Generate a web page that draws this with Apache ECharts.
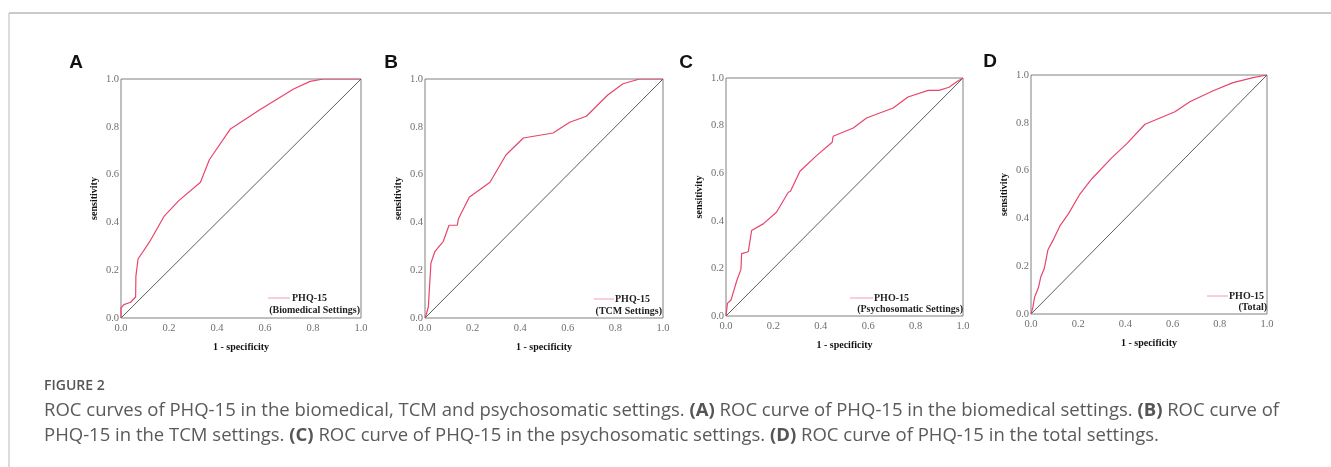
<!DOCTYPE html>
<html>
<head>
<meta charset="utf-8">
<script src="https://cdn.jsdelivr.net/npm/echarts@6/dist/echarts.min.js"></script>
<style>
html,body{margin:0;padding:0;background:#fff;}
#chart{width:1331px;height:467px;}
</style>
</head>
<body>
<div id="chart"></div>
<script>
// ---- Data ----
const tickLabels = ['0.0', '0.2', '0.4', '0.6', '0.8', '1.0'];
const panelLetters = ['A', 'B', 'C', 'D'];
const legendTop = ['PHQ-15', 'PHQ-15', 'PHO-15', 'PHO-15'];
const legendBottom = ['(Biomedical Settings)', '(TCM Settings)', '(Psychosomatic Settings)', '(Total)'];
const diagX = [0, 1];
const diagY = [0, 1];

const fprA = [0, 0, 0.012, 0.04, 0.061, 0.062, 0.071, 0.123, 0.179, 0.241, 0.331, 0.368, 0.456, 0.58, 0.719, 0.788, 0.843, 1];
const tprA = [0, 0.042, 0.056, 0.066, 0.088, 0.174, 0.247, 0.325, 0.425, 0.491, 0.568, 0.662, 0.791, 0.872, 0.958, 0.99, 1, 1];

const fprB = [0, 0.007, 0.014, 0.021, 0.025, 0.042, 0.077, 0.101, 0.136, 0.140, 0.186, 0.273, 0.340, 0.413, 0.538, 0.608, 0.678, 0.769, 0.832, 0.902, 1];
const tprB = [0, 0.021, 0.046, 0.046, 0.23, 0.279, 0.321, 0.388, 0.388, 0.414, 0.505, 0.568, 0.682, 0.753, 0.774, 0.819, 0.844, 0.934, 0.98, 1, 1];

const fprC = [0, 0.006, 0.006, 0.021, 0.045, 0.063, 0.066, 0.094, 0.108, 0.157, 0.213, 0.263, 0.272, 0.312, 0.382, 0.448, 0.452, 0.537, 0.593, 0.705, 0.768, 0.853, 0.899, 0.941, 0.972, 1];
const tprC = [0, 0, 0.053, 0.067, 0.147, 0.196, 0.262, 0.270, 0.359, 0.387, 0.436, 0.520, 0.524, 0.608, 0.674, 0.730, 0.755, 0.790, 0.832, 0.874, 0.920, 0.948, 0.948, 0.961, 0.983, 1];

const fprD = [0, 0.008, 0.015, 0.032, 0.042, 0.056, 0.072, 0.093, 0.124, 0.159, 0.208, 0.258, 0.342, 0.406, 0.483, 0.610, 0.673, 0.772, 0.856, 0.941, 1];
const tprD = [0, 0.028, 0.07, 0.112, 0.157, 0.189, 0.269, 0.308, 0.371, 0.420, 0.503, 0.566, 0.653, 0.713, 0.794, 0.846, 0.888, 0.934, 0.968, 0.989, 1];

const captionTitle = 'FIGURE 2';
const captionLine1 = 'ROC curves of PHQ-15 in the biomedical, TCM and psychosomatic settings. {b|(A)} ROC curve of PHQ-15 in the biomedical settings. {b|(B)} ROC curve of';
const captionLine2 = 'PHQ-15 in the TCM settings. {b|(C)} ROC curve of PHQ-15 in the psychosomatic settings. {b|(D)} ROC curve of PHQ-15 in the total settings.';

// ---- Layout ----
const panels = [
  {left: 121, top: 79, width: 240, height: 239, fpr: fprA, tpr: tprA, letterX: 76, letterY: 63},
  {left: 425, top: 79, width: 238, height: 239, fpr: fprB, tpr: tprB, letterX: 391, letterY: 63},
  {left: 726, top: 78, width: 237, height: 238, fpr: fprC, tpr: tprC, letterX: 686, letterY: 63},
  {left: 1031, top: 75, width: 236, height: 239, fpr: fprD, tpr: tprD, letterX: 990, letterY: 62}
];
const curveColor = '#e8456b';
const serif = '"Liberation Serif", "DejaVu Serif", serif';

const grid = [], xAxis = [], yAxis = [], series = [], graphic = [];
panels.forEach((p, i) => {
  grid.push({left: p.left, top: p.top, width: p.width, height: p.height,
    show: true, borderColor: '#808080', borderWidth: 1, backgroundColor: 'transparent'});
  const axisCommon = {
    type: 'value', min: 0, max: 1, interval: 0.2, gridIndex: i,
    splitLine: {show: false}, axisTick: {show: false},
    axisLine: {show: false},
    axisLabel: {fontFamily: serif, fontSize: 10.5, color: '#6f6f6f',
      formatter: v => tickLabels[Math.round(v * 5)]},
    nameLocation: 'middle',
    nameTextStyle: {fontFamily: serif, fontSize: 10, fontWeight: 'bold', color: '#111'}
  };
  xAxis.push(Object.assign({}, axisCommon, {name: '1 - specificity', nameGap: 24,
    axisLabel: Object.assign({}, axisCommon.axisLabel, {margin: 5})}));
  yAxis.push(Object.assign({}, axisCommon, {name: 'sensitivity', nameGap: 22,
    axisLabel: Object.assign({}, axisCommon.axisLabel, {margin: 2})}));
  series.push({type: 'line', xAxisIndex: i, yAxisIndex: i, symbol: 'none', silent: true,
    lineStyle: {color: '#333', width: 0.8}, data: diagX.map((x, k) => [x, diagY[k]]), z: 2});
  series.push({type: 'line', xAxisIndex: i, yAxisIndex: i, symbol: 'none', silent: true,
    lineStyle: {color: curveColor, width: 1.2}, data: p.fpr.map((x, k) => [x, p.tpr[k]]), z: 3});
  graphic.push({type: 'text', x: p.letterX, y: p.letterY,
    style: {text: panelLetters[i], font: 'bold 19px "Liberation Sans", Arial, sans-serif', fill: '#111',
      align: 'center', verticalAlign: 'middle'}});
});

// legends (line sample + two text lines), placed bottom-right inside each plot
const legendPos = [
  {lx1: 268, lx2: 290, ly: 298, tx: 292, ty: 298, bx: 360, by: 310},
  {lx1: 594, lx2: 614, ly: 299, tx: 615, ty: 299, bx: 662, by: 311},
  {lx1: 850, lx2: 873, ly: 298, tx: 874, ty: 298, bx: 963, by: 309},
  {lx1: 1207, lx2: 1228, ly: 296, tx: 1229, ty: 296, bx: 1267, by: 307}
];
legendPos.forEach((l, i) => {
  graphic.push({type: 'line', shape: {x1: l.lx1, y1: l.ly, x2: l.lx2, y2: l.ly},
    style: {stroke: '#f2a0b4', lineWidth: 1}});
  graphic.push({type: 'text', x: l.tx, y: l.ty,
    style: {text: legendTop[i], font: 'bold 10px ' + serif, fill: '#222', align: 'left', verticalAlign: 'middle'}});
  graphic.push({type: 'text', x: l.bx, y: l.by,
    style: {text: legendBottom[i], font: 'bold 10px ' + serif, fill: '#222', align: 'right', verticalAlign: 'middle'}});
});

// frame
graphic.push({type: 'line', shape: {x1: 9, y1: 13, x2: 1331, y2: 13}, style: {stroke: '#b8b8b8', lineWidth: 1.5}});
graphic.push({type: 'line', shape: {x1: 9, y1: 13, x2: 9, y2: 467}, style: {stroke: '#b8b8b8', lineWidth: 1}});

// caption
const capFont = '"Open Sans", "Noto Sans", sans-serif';
graphic.push({type: 'text', x: 44, y: 386,
  style: {text: captionTitle, font: '600 14px ' + capFont, fill: '#555', verticalAlign: 'middle'}});
const rich = {b: {fontFamily: capFont, fontWeight: 'bold', fontSize: 18.5, fill: '#555', color: '#555'}};
graphic.push({type: 'text', x: 44, y: 411,
  style: {text: captionLine1, font: '18.5px ' + capFont, fill: '#5a5a5a', verticalAlign: 'middle', rich: rich}});
graphic.push({type: 'text', x: 44, y: 436,
  style: {text: captionLine2, font: '18.5px ' + capFont, fill: '#5a5a5a', verticalAlign: 'middle', rich: rich}});

const chart = echarts.init(document.getElementById('chart'), null, {renderer: 'canvas'});
chart.setOption({
  animation: false,
  backgroundColor: '#fff',
  grid: grid, xAxis: xAxis, yAxis: yAxis, series: series, graphic: graphic
});
</script>
</body>
</html>
